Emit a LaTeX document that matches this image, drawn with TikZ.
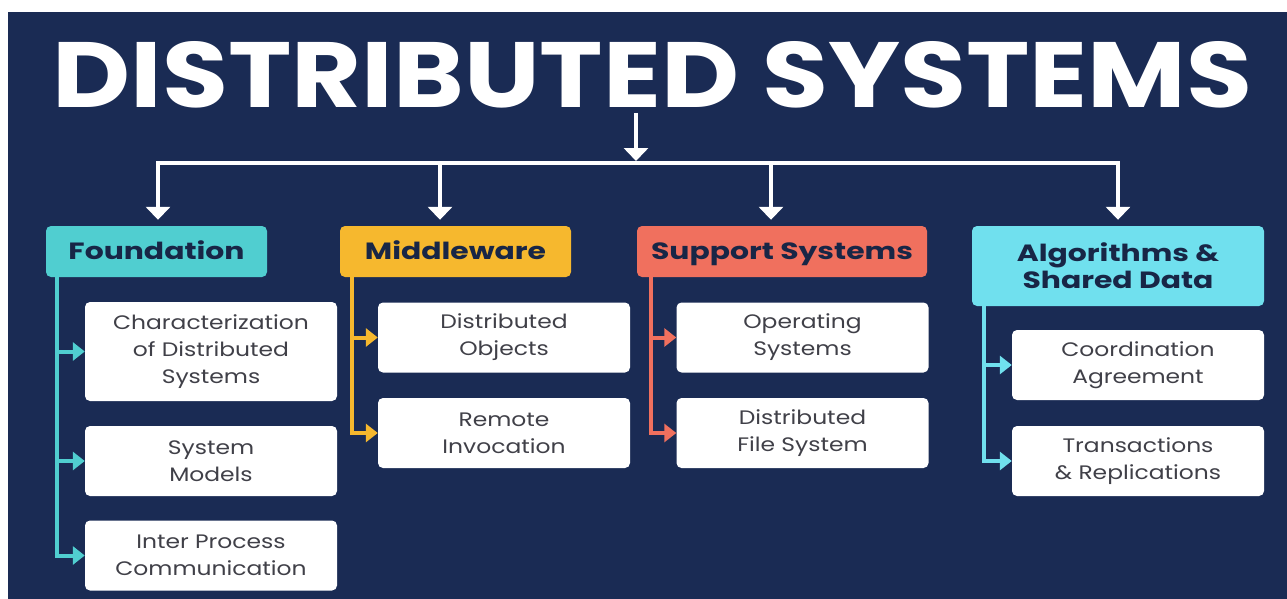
\documentclass[tikz,border=0pt]{standalone}
\usepackage{fontspec}
\setmainfont{Poppins}
\newfontfamily\headfont[FakeStretch=1.27]{Poppins}
\newfontfamily\itemfont[FakeStretch=1.2]{Poppins}
\usetikzlibrary{arrows.meta,calc}

\definecolor{navy}{RGB}{26,43,84}
\definecolor{hdtext}{RGB}{24,38,70}
\definecolor{itemtext}{RGB}{64,64,72}
\definecolor{cFound}{RGB}{80,206,208}
\definecolor{cMid}{RGB}{246,184,46}
\definecolor{cSup}{RGB}{240,112,94}
\definecolor{cAlg}{RGB}{112,224,238}

\begin{document}
\begin{tikzpicture}[x=1pt,y=-1pt,
  head/.style={rounded corners=5pt, inner sep=0pt, align=center,
    text=hdtext, font=\headfont\bfseries\fontsize{23.5}{27}\selectfont},
  head1/.style={head, text height=17pt, text depth=2pt},
  item/.style={fill=white, rounded corners=5pt, inner sep=0pt, align=center,
    text=itemtext, font=\itemfont\fontsize{19.5}{27}\selectfont,
    minimum width=252pt, minimum height=70pt},
  wline/.style={draw=white, line width=4pt},
  warr/.style={wline, -{Triangle[width=24pt,length=13pt]}},
  branch/.style={line width=4pt, -{Triangle[width=18pt,length=12pt]}}
]
% canvas
\useasboundingbox (0,0) rectangle (1287,599);
\fill[white] (0,0) rectangle (1287,599);
\fill[navy] (8,12) rectangle (1287,599);

% title
\node[text=white, inner sep=0pt] (title) at (652.5,75)
  {\resizebox{1200pt}{66pt}{\bfseries DISTRIBUTED SYSTEMS}};

% category headers
\node[head1, fill=cFound, minimum width=221pt, minimum height=51pt] (hF) at (156.5,251.5) {Foundation};
\node[head1, fill=cMid,   minimum width=231pt, minimum height=51pt] (hM) at (455.5,251.5) {Middleware};
\node[head1, fill=cSup,   minimum width=290pt, minimum height=51pt] (hS) at (782,251.5) {Support Systems};
\node[head,  fill=cAlg,   minimum width=292pt, minimum height=80pt] (hA) at (1118,266) {Algorithms \&\\Shared Data};

% topic boxes
\node[item, minimum height=99pt] (F1) at (211,351.5) {Characterization\\of Distributed\\Systems};
\node[item] (F2) at (211,461) {System\\Models};
\node[item] (F3) at (211,555.5) {Inter Process\\Communication};
\node[item] (M1) at (504,337.5) {Distributed\\Objects};
\node[item] (M2) at (504,433) {Remote\\Invocation};
\node[item] (S1) at (802.5,337.5) {Operating\\Systems};
\node[item] (S2) at (802.5,433) {Distributed\\File System};
\node[item] (A1) at (1138,365) {Coordination\\Agreement};
\node[item] (A2) at (1138,461) {Transactions\\\& Replications};

% distribution bar under the title
\coordinate (tstart) at (636,113);
\coordinate (jT) at (636,161);
\coordinate (jF) at (158,163);
\coordinate (jM) at (440,163);
\coordinate (jS) at (771,163);
\coordinate (jA) at (1118,163);
\draw[warr] (tstart) -- (jT);
\draw[warr, shorten >=6pt] (jM) -- (jF) -- (jF |- hF.north);
\draw[wline] (jM) -- (jS);
\draw[warr, shorten >=6pt] (jS) -- (jA) -- (jA |- hA.north);
\draw[warr, shorten >=6pt] (jM) -- (jM |- hM.north);
\draw[warr, shorten >=6pt] (jS) -- (jS |- hS.north);

% branches from each header to its topics
\coordinate (vF) at (57,0 |- hF.south);
\coordinate (vM) at (352,0 |- hM.south);
\coordinate (vS) at (651,0 |- hS.south);
\coordinate (vA) at (984,0 |- hA.south);

\draw[branch, cFound] (vF) |- (F3.west);
\draw[branch, cFound] (vF |- F1.west) -- (F1.west);
\draw[branch, cFound] (vF |- F2.west) -- (F2.west);

\draw[branch, cMid] (vM) |- (M2.west);
\draw[branch, cMid] (vM |- M1.west) -- (M1.west);

\draw[branch, cSup] (vS) |- (S2.west);
\draw[branch, cSup] (vS |- S1.west) -- (S1.west);

\draw[branch, cAlg] (vA) |- (A2.west);
\draw[branch, cAlg] (vA |- A1.west) -- (A1.west);
\end{tikzpicture}
\end{document}
